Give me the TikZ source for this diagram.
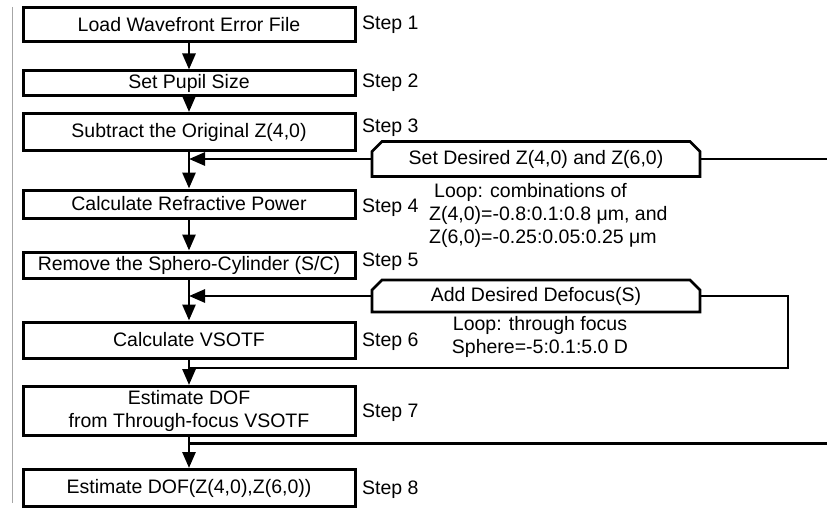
\documentclass[tikz,border=0pt]{standalone}
\usepackage{fontspec}
\setmainfont{Liberation Sans}
\usepackage{tikz}
\usetikzlibrary{arrows.meta,shapes.misc}
\newcommand{\flowfont}{\fontsize{19.5}{23}\selectfont}

\begin{document}
\begin{tikzpicture}[x=1pt,y=-1pt,
  stepbox/.style={draw=black,line width=3pt,minimum width=332pt,inner sep=2pt,font=\flowfont,align=center},
  looplim/.style={chamfered rectangle,chamfered rectangle corners={north west,north east},chamfered rectangle xsep=5pt,chamfered rectangle ysep=5pt,draw=black,line width=2.8pt,minimum width=328pt,minimum height=35pt,inner sep=1pt,font=\flowfont},
  lbl/.style={anchor=west,inner sep=1pt,font=\flowfont},
  note/.style={inner sep=1pt,font=\flowfont},
  flow/.style={-{Triangle[length=16pt,width=13pt]},line width=2.8pt},
  link/.style={line width=2.8pt}
]
\useasboundingbox (0,0) rectangle (827,511);
\draw[gray!70,line width=1pt] (12,7) -- (12,503);
% main chain
\node[stepbox,minimum height=34pt] (b1) at (189,25) {Load Wavefront Error File};
\node[stepbox,minimum height=24pt] (b2) at (189,83) {Set Pupil Size};
\node[stepbox,minimum height=37pt] (b3) at (189,132) {Subtract the Original Z(4,0)};
\node[stepbox,minimum height=28pt] (b4) at (189,204) {Calculate Refractive Power};
\node[stepbox,minimum height=26pt] (b5) at (189,265) {Remove the Sphero-Cylinder (S/C)};
\node[stepbox,minimum height=36pt] (b6) at (189,340) {Calculate VSOTF};
\node[stepbox,minimum height=49pt] (b7) at (189,411) {Estimate DOF\\from Through-focus VSOTF};
\node[stepbox,minimum height=37pt] (b8) at (189,488) {Estimate DOF(Z(4,0),Z(6,0))};
\foreach \n/\y in {1/25,2/83,3/128,4/208,5/262,6/342,7/413,8/490}
  \node[lbl] (s\n) at (361,\y) {Step \n};
% loops
\node[looplim] (zset) at (536,159) {Set Desired Z(4,0) and Z(6,0)};
\node[looplim,minimum height=32pt] (dfoc) at (536,296) {Add Desired Defocus(S)};
\node[note,align=left,anchor=west] (zrng) at (428,215) {\hspace{5pt}Loop: combinations of\\Z(4,0)=-0.8:0.1:0.8 μm, and\\Z(6,0)=-0.25:0.05:0.25 μm};
\node[note,align=center] (srng) at (540,337) {Loop: through focus\\Sphere=-5:0.1:5.0 D};
\coordinate (outA) at (827,159);
\coordinate (outB) at (827,443);
\coordinate (turn) at (788,368);
\foreach \a/\b in {b1/b2,b2/b3,b3/b4,b4/b5,b5/b6,b6/b7,b7/b8}
  \draw[flow] (\a) -- (\b);
\draw[flow] (zset.west) -- (zset.west -| b3.south);
\draw[flow] (dfoc.west) -- (dfoc.west -| b5.south);
\draw[link] (zset.east) -- (outA);
\draw[link,line width=2.3pt] (dfoc.east) -| (turn) -- (turn -| b6.south);
\draw[link,line width=3pt] (outB) -- (outB -| b7.south);
\end{tikzpicture}
\end{document}
